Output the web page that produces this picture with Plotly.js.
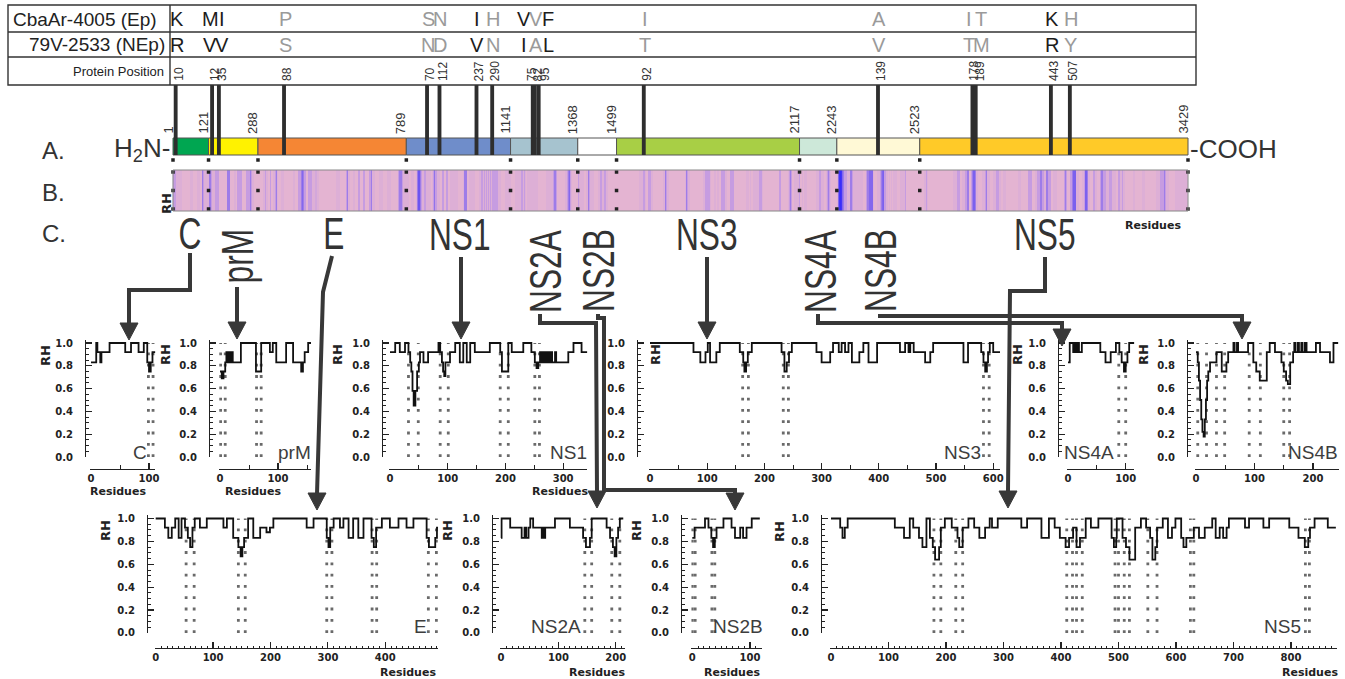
<!DOCTYPE html>
<html><head><meta charset="utf-8">
<script src="https://cdn.plot.ly/plotly-3.0.1.min.js"></script>
<style>html,body{margin:0;padding:0;background:#fff}#chart{width:1345px;height:679px}</style>
</head><body><div id="chart"></div>
<script>
// ================= DATA =================
const proteins = ['C','prM','E','NS1','NS2A','NS2B','NS3','NS4A','NS4B','NS5'];
const boundaries = [1,121,288,789,1141,1368,1499,2117,2243,2523,3429];
const segColors = ['#00a651','#fff200','#f58634','#6f8dca','#a6c3cf','#ffffff','#a8cf45','#cde8d9','#fff9d6','#ffca28'];

const mutGenomePos  = [10,133,156,376,859,901,1026,1079,1216,1223,1236,1591,2382,2701,2712,2966,3030];
const mutProteinPos = ['10','12','35','88','70','112','237','290','75','82','95','92','139','178','189','443','507'];
const aaEp  = ['K','M','I','P','S','N','I','H','V','V','F','I','A','I','T','K','H'];
const aaNEp = ['R','V','V','S','N','D','V','N','I','A','L','T','V','T','M','R','Y'];
const aaDark = [1,1,1,0,0,0,1,0,1,0,1,0,0,0,0,1,0];
const strainNames = ['CbaAr-4005 (Ep)','79V-2533 (NEp)','Protein Position'];

// RH step profiles (residue where a step starts, RH value)
const C_res = [0,9,11,16,18,32,59,69,82,91,97,100,103,106,111];
const C_rh  = [0.83,1,0.92,0.83,0.92,1,0.92,1,0.92,1,0.83,0.75,0.83,0.92,0.92];
const C_dots = [[99,107]];

const prM_res = [0,3,6,9,11,13,15,17,19,22,36,62,71,86,91,97,114,126,140,143,146,152,157];
const prM_rh  = [0.75,0.69,0.75,0.83,0.92,0.83,0.92,0.83,0.92,0.83,1,0.75,1,0.92,1,0.83,1,0.83,0.75,0.83,0.92,1,1];
const prM_dots = [[1,9],[63,71]];

const E_res = [0,16,22,28,34,40,45,51,56,60,64,68,77,89,118,124,135,144,148,151,154,161,170,182,193,199,205,263,275,298,301,304,310,321,327,336,344,353,362,376,380,384,394,408,423,437,449,472,476,487,490,492];
const E_rh  = [1,0.92,0.83,0.92,1,0.83,1,0.92,0.83,0.75,0.92,1,0.92,1,0.92,1,0.83,0.75,0.67,0.75,0.83,1,0.83,0.92,0.88,0.92,1,0.92,1,0.83,0.75,0.92,1,0.92,1,0.83,1,0.83,1,0.83,0.75,0.92,1,0.92,1,0.92,1,0.83,0.75,0.83,0.92,0.92];
const E_dots = [[53,67],[144,156],[298,307],[377,385],[475,489]];

const NS1_res = [0,9,17,26,32,35,37,39,41,44,47,50,52,58,66,84,87,90,92,94,96,104,113,121,127,133,139,147,173,191,194,205,211,231,245,251,254,257,260,263,266,269,272,275,278,281,286,288,309,318,332,342];
const NS1_rh  = [0.92,1,0.92,1,0.92,0.83,0.75,0.58,0.45,0.58,0.75,0.83,0.92,0.83,0.92,1,0.92,0.83,0.75,0.71,0.83,0.92,1,0.83,1,0.83,1,0.92,1,0.92,0.75,1,0.92,1,0.92,0.83,0.78,0.83,0.92,0.83,0.92,0.83,0.92,0.83,0.92,0.83,0.92,0.83,0.92,1,0.92,0.92];
const NS1_dots = [[32,49],[87,101],[191,205],[251,259]];

const NS2A_res = [0,1,16,36,41,44,48,51,56,71,73,75,77,94,120,143,148,155,158,184,190,195,198,201,204,207,213];
const NS2A_rh  = [0.83,1,0.92,0.83,0.92,0.83,0.92,1,0.92,0.83,0.92,0.83,0.92,1,0.92,0.83,0.75,0.83,1,0.92,0.83,0.75,0.67,0.83,0.92,1,1];
const NS2A_dots = [[146,158],[193,207]];

const NS2B_res = [0,4,22,28,33,36,39,42,54,68,74,83,88,94,103,117];
const NS2B_rh  = [0.83,0.92,1,0.92,0.83,0.75,0.83,0.92,1,0.92,0.83,0.92,0.83,0.92,1,1];
const NS2B_dots = [[0,5],[34,39]];

const NS3_res = [0,76,88,97,101,105,116,122,157,163,165,168,171,178,230,235,239,243,248,291,300,315,320,330,335,341,347,353,366,373,382,397,437,446,452,455,461,481,490,495,548,556,579,583,586,589,591,594,600,612];
const NS3_rh  = [1,0.92,0.83,0.92,1,0.83,0.92,1,0.92,0.83,0.75,0.83,0.92,1,0.92,0.75,0.83,0.92,1,0.92,0.83,0.92,1,0.92,1,0.92,1,0.83,0.92,1,0.83,1,0.92,1,0.92,1,0.92,0.83,0.92,1,0.83,1,0.92,0.83,0.75,0.83,0.92,1,0.92,0.92];
const NS3_dots = [[162,172],[233,242],[583,593]];

const NS4A_res = [0,3,9,12,14,17,19,24,56,65,74,83,89,93,97,100,103,106,115];
const NS4A_rh  = [0.83,1,0.92,1,0.92,1,0.92,1,0.92,0.83,0.92,1,0.92,0.83,0.75,0.83,0.92,1,1];
const NS4A_dots = [[88,100]];

const NS4B_res = [0,3,5,7,9,11,13,15,17,19,21,24,35,44,52,55,64,66,70,72,75,89,98,103,109,121,126,135,146,150,154,157,161,166,168,170,174,176,180,182,186,189,205,212,229,235,243];
const NS4B_rh  = [0.92,0.83,0.67,0.5,0.33,0.22,0.18,0.33,0.5,0.67,0.75,0.83,0.92,0.75,0.83,0.92,1,0.92,1,0.92,0.92,1,0.83,0.75,0.67,0.92,1,0.92,0.83,0.75,0.67,0.64,0.83,0.92,1,0.92,1,0.92,1,0.92,1,0.92,1,0.92,0.83,1,1];
const NS4B_dots = [[3,18],[35,49],[91,110],[150,160]];

const NS5_res = [0,16,20,24,29,111,127,137,143,153,159,166,172,177,181,188,191,198,210,220,223,229,239,249,258,268,276,280,290,331,341,366,379,389,398,408,414,421,427,433,443,452,465,488,492,496,497,507,513,519,529,539,548,555,559,564,567,577,586,593,599,609,613,618,631,640,650,663,669,676,682,688,692,720,727,752,762,797,813,824,830,833,841,864,878];
const NS5_rh  = [1,0.92,0.83,0.92,1,0.92,0.83,1,0.92,0.83,0.75,1,0.83,0.75,0.64,0.75,0.92,1,0.92,0.83,0.75,0.92,1,0.92,0.83,0.92,1,0.92,1,0.92,1,0.83,1,0.92,0.83,0.75,0.83,0.92,0.75,0.83,1,0.92,1,0.83,0.75,0.83,1,0.83,0.75,0.64,0.92,1,0.92,0.83,0.64,0.75,0.92,1,0.83,0.92,1,0.83,0.75,0.83,0.92,0.83,0.92,1,0.83,0.92,0.83,0.92,1,0.92,1,0.92,1,0.92,0.83,0.75,0.83,0.92,1,0.92,0.92];
const NS5_dots = [[179,191],[217,229],[410,420],[427,437],[494,500],[510,519],[551,567],[625,631],[825,832]];

const profiles = {
  C:{res:C_res, rh:C_rh, dots:C_dots}, prM:{res:prM_res, rh:prM_rh, dots:prM_dots},
  E:{res:E_res, rh:E_rh, dots:E_dots}, NS1:{res:NS1_res, rh:NS1_rh, dots:NS1_dots},
  NS2A:{res:NS2A_res, rh:NS2A_rh, dots:NS2A_dots}, NS2B:{res:NS2B_res, rh:NS2B_rh, dots:NS2B_dots},
  NS3:{res:NS3_res, rh:NS3_rh, dots:NS3_dots}, NS4A:{res:NS4A_res, rh:NS4A_rh, dots:NS4A_dots},
  NS4B:{res:NS4B_res, rh:NS4B_rh, dots:NS4B_dots}, NS5:{res:NS5_res, rh:NS5_rh, dots:NS5_dots}
};
const yTickVals = [0,0.2,0.4,0.6,0.8,1.0];
const yTickText = ['0.0','0.2','0.4','0.6','0.8','1.0'];

// ================= LAYOUT HELPERS =================
const W = 1345, H = 679;
const X = px => px / W;
const Y = py => 1 - py / H;
const SANS = 'Liberation Sans, Arial, sans-serif';
const BOLD = 'DejaVu Sans, Verdana, sans-serif';
const INK = '#222';

function stepAt(res, rh, r) {
  let v = rh[0];
  for (let k = 0; k < res.length; k++) { if (res[k] <= r) v = rh[k]; else break; }
  return v;
}

// spread clustered labels apart (pixel positions)
function spread(px, gap) {
  const out = px.slice();
  let changed = true, guard = 0;
  while (changed && guard++ < 50) {
    changed = false;
    let i = 0;
    while (i < out.length) {
      let j = i;
      while (j + 1 < out.length && out[j + 1] - out[j] < gap - 0.01) j++;
      if (j > i) {
        const mean = out.slice(i, j + 1).reduce((a, b) => a + b, 0) / (j - i + 1);
        for (let k = i; k <= j; k++) out[k] = mean + (k - i - (j - i) / 2) * gap;
        changed = true;
      }
      i = j + 1;
    }
  }
  return out;
}

// ================= GENOME (A, B) =================
const gPx0 = 173, gPx1 = 1188;
const gppr = (gPx1 - gPx0) / (boundaries[boundaries.length - 1] - boundaries[0]);
const gRange = [-12, 3442];
const gpx = r => gPx0 + (r - boundaries[0]) * gppr;

const traces = [];
const layout = {
  width: W, height: H, margin: {l: 0, r: 0, t: 0, b: 0},
  paper_bgcolor: '#fff', plot_bgcolor: 'rgba(0,0,0,0)',
  showlegend: false, barmode: 'overlay',
  annotations: [], shapes: []
};

layout.xaxis11 = {domain: [X(gpx(gRange[0])), X(gpx(gRange[1]))], range: gRange, visible: false, anchor: 'y11', fixedrange: true};
layout.yaxis11 = {domain: [Y(215), Y(85)], range: [0, 130], visible: false, anchor: 'x11', fixedrange: true};

// RH strip built from concatenated protein profiles
const stripVals = [];
for (let i = 0; i < proteins.length; i++) {
  const start = i === 0 ? boundaries[0] : boundaries[i] + 1;
  const end = boundaries[i + 1];
  const p = profiles[proteins[i]];
  for (let g = start; g <= end; g++) stripVals.push(stepAt(p.res, p.rh, g - start));
}
traces.push({
  type: 'heatmap', xaxis: 'x11', yaxis: 'y11', z: [stripVals], x0: boundaries[0], dx: 1, y0: 24.5, dy: 41,
  zmin: 0, zmax: 1, showscale: false, hoverinfo: 'skip',
  colorscale: [[0, 'rgb(35,30,255)'], [0.45, 'rgb(80,62,245)'], [0.65, 'rgb(125,98,238)'], [0.75, 'rgb(158,124,232)'],
               [0.83, 'rgb(198,156,225)'], [0.92, 'rgb(221,175,214)'], [1, 'rgb(228,180,210)']]
});
layout.shapes.push({type: 'rect', xref: 'x11', yref: 'y11', x0: boundaries[0], x1: boundaries[boundaries.length - 1], y0: 4, y1: 45, line: {color: '#888', width: 1}});

// genome segments
traces.push({
  type: 'bar', orientation: 'h', xaxis: 'x11', yaxis: 'y11',
  y: proteins.map(() => 68.5), base: boundaries.slice(0, -1),
  x: boundaries.slice(1).map((b, i) => b - boundaries[i]), width: 17,
  marker: {color: segColors, line: {color: '#555', width: 1}}, hoverinfo: 'skip'
});
// mutation bars
traces.push({
  type: 'bar', xaxis: 'x11', yaxis: 'y11', x: mutGenomePos, y: mutGenomePos.map(() => 70), base: 60, width: 13,
  marker: {color: '#2e2e2e', line: {width: 0}}, hoverinfo: 'skip'
});
// boundary dots
const dotY = [55, 43, 24.5, 6];
traces.push({
  type: 'scatter', mode: 'markers', xaxis: 'x11', yaxis: 'y11',
  x: boundaries.flatMap(b => dotY.map(() => b)), y: boundaries.flatMap(() => dotY),
  marker: {symbol: 'square', size: 3.5, color: '#222'}, hoverinfo: 'skip', cliponaxis: false
});
// boundary labels
boundaries.forEach(b => layout.annotations.push({
  xref: 'x11', yref: 'paper', x: b, y: Y(136), xshift: -5, text: String(b), showarrow: false,
  textangle: -90, xanchor: 'center', yanchor: 'bottom', font: {family: SANS, size: 13, color: '#333'}
}));

// ================= TABLE =================
layout.shapes.push({type: 'rect', xref: 'paper', yref: 'paper', x0: X(8), x1: X(1196), y0: Y(5), y1: Y(85), line: {color: '#333', width: 1.4}});
[32, 57].forEach(py => layout.shapes.push({type: 'line', xref: 'paper', yref: 'paper', x0: X(8), x1: X(1196), y0: Y(py), y1: Y(py), line: {color: '#333', width: 1.4}}));
layout.shapes.push({type: 'line', xref: 'paper', yref: 'paper', x0: X(170), x1: X(170), y0: Y(5), y1: Y(85), line: {color: '#333', width: 1.4}});
layout.annotations.push({xref: 'paper', yref: 'paper', x: X(11), y: Y(19), text: strainNames[0], showarrow: false, xanchor: 'left', yanchor: 'middle', font: {family: SANS, size: 19, color: INK}});
layout.annotations.push({xref: 'paper', yref: 'paper', x: X(167), y: Y(45), text: strainNames[1], showarrow: false, xanchor: 'right', yanchor: 'middle', font: {family: SANS, size: 19, color: INK}});
layout.annotations.push({xref: 'paper', yref: 'paper', x: X(166), y: Y(72), text: strainNames[2], showarrow: false, xanchor: 'right', yanchor: 'middle', font: {family: SANS, size: 13, color: INK}});

const mutPx = mutGenomePos.map(gpx);
const letterPx = spread(mutPx, 12);
const numPx = spread(mutPx, 6.5);
mutGenomePos.forEach((g, i) => {
  const col = aaDark[i] ? '#1c1c1c' : '#9a9a9a';
  layout.annotations.push({xref: 'x11', yref: 'paper', x: g, xshift: letterPx[i] - mutPx[i] + 1, y: Y(19), text: aaEp[i], showarrow: false, xanchor: 'center', yanchor: 'middle', font: {family: SANS, size: 20, color: col}});
  layout.annotations.push({xref: 'x11', yref: 'paper', x: g, xshift: letterPx[i] - mutPx[i] + 1, y: Y(45), text: aaNEp[i], showarrow: false, xanchor: 'center', yanchor: 'middle', font: {family: SANS, size: 20, color: col}});
  layout.annotations.push({xref: 'x11', yref: 'paper', x: g, xshift: numPx[i] - mutPx[i] + 3, y: Y(83), text: mutProteinPos[i], showarrow: false, textangle: -90, xanchor: 'center', yanchor: 'bottom', font: {family: SANS, size: 12, color: '#333'}});
});

// ================= SECTION LABELS =================
[['A.', 150], ['B.', 192], ['C.', 233]].forEach(([t, py]) => layout.annotations.push({
  xref: 'paper', yref: 'paper', x: X(40), y: Y(py), text: t, showarrow: false, xanchor: 'left', yanchor: 'middle', font: {family: SANS, size: 24, color: '#333'}}));
layout.annotations.push({xref: 'paper', yref: 'paper', x: X(172), y: Y(149), text: 'H<sub>2</sub>N-', showarrow: false, xanchor: 'right', yanchor: 'middle', font: {family: SANS, size: 26, color: '#333'}});
layout.annotations.push({xref: 'paper', yref: 'paper', x: X(1188), y: Y(149), text: '-COOH', showarrow: false, xanchor: 'left', yanchor: 'middle', font: {family: SANS, size: 26, color: '#333'}});
layout.annotations.push({xref: 'paper', yref: 'paper', x: X(157), y: Y(191), text: 'RH', showarrow: false, textangle: -90, font: {family: BOLD, size: 13, color: INK, weight: 'bold'}});
layout.annotations.push({xref: 'paper', yref: 'paper', x: X(1183), y: Y(226), text: 'Residues', showarrow: false, xanchor: 'right', yanchor: 'middle', font: {family: BOLD, size: 11, color: INK, weight: 'bold'}});

// protein labels (section C) : [name, centre x, centre y, rotated]
const bigLabels = [['C', 190, 233, false], ['prM', 237, 256, true], ['E', 333, 233, false], ['NS1', 460, 234, false],
  ['NS2A', 545, 271, true], ['NS2B', 598, 271, true], ['NS3', 707, 234, false], ['NS4A', 820, 271, true],
  ['NS4B', 880, 271, true], ['NS5', 1045, 234, false]];
const narrowIdx = [];
bigLabels.forEach(([t, px, py, rot]) => {
  narrowIdx.push(layout.annotations.length);
  layout.annotations.push({
    xref: 'paper', yref: 'paper', x: X(px), y: Y(py), text: t, showarrow: false, textangle: rot ? -90 : 0,
    xanchor: 'center', yanchor: 'middle', font: {family: SANS, size: 44, color: '#333'}});
});

// arrows (decorative connectors)
const arrowRoutes = [
  [[190,253],[190,290],[129,290],[129,324]],
  [[237,287],[237,323]],
  [[332,256],[323,292],[317,494]],
  [[461,257],[461,323]],
  [[540,314],[540,323],[596,323],[597,492]],
  [[598,314],[598,318],[604,318],[604,490],[735,490],[735,494]],
  [[707,257],[707,323]],
  [[818,314],[818,323],[1062,323],[1062,330]],
  [[880,314],[880,316],[1242,316],[1242,323]],
  [[1045,257],[1045,291],[1010,291],[1008,492]]
];
arrowRoutes.forEach(route => {
  const path = route.map((p, k) => (k ? 'L' : 'M') + X(p[0]).toFixed(5) + ',' + Y(p[1]).toFixed(5)).join(' ');
  layout.shapes.push({type: 'path', xref: 'paper', yref: 'paper', path, line: {color: '#383838', width: 4}, fillcolor: 'rgba(0,0,0,0)'});
  const [tx, ty0] = route[route.length - 1];
  const ty = ty0 + 16;
  const head = `M${X(tx - 9)},${Y(ty0 - 1)} L${X(tx + 9)},${Y(ty0 - 1)} L${X(tx)},${Y(ty)} Z`;
  layout.shapes.push({type: 'path', xref: 'paper', yref: 'paper', path: head, line: {color: '#383838', width: 1}, fillcolor: '#383838'});
});

// ================= SMALL RH PLOTS =================
const rows = [{zeroY: 457, ppu: 114, axisY: 469, resY: 491, minor: 50, minorLen: 4, rhY: 355, nameY: 452},
              {zeroY: 633, ppu: 114.5, axisY: 648, resY: 672, minor: 10, minorLen: 2.5, rhY: 531, nameY: 626}];
const smallPlots = [
  {p: 'C',    row: 0, yAxisPx: 85,   zeroPx: 91,    ppr: 0.58,  xmax: 111, rhX: 45,   nameRight: 149,  resRight: 148},
  {p: 'prM',  row: 0, yAxisPx: 209,  zeroPx: 220,   ppr: 0.58,  xmax: 157, rhX: 165,  nameRight: 313,  resRight: 283},
  {p: 'NS1',  row: 0, yAxisPx: 382,  zeroPx: 390,   ppr: 0.577, xmax: 342, rhX: 337,  nameRight: 589,  resRight: 590},
  {p: 'NS3',  row: 0, yAxisPx: 637,  zeroPx: 650,   ppr: 0.572, xmax: 612, rhX: 655,  nameRight: 983,  resRight: null},
  {p: 'NS4A', row: 0, yAxisPx: 1058, zeroPx: 1068,  ppr: 0.577, xmax: 115, rhX: 1017, nameRight: 1116, resRight: null},
  {p: 'NS4B', row: 0, yAxisPx: 1187, zeroPx: 1196,  ppr: 0.585, xmax: 245, rhX: 1143, nameRight: 1340, resRight: null},
  {p: 'E',    row: 1, yAxisPx: 147,  zeroPx: 155.7, ppr: 0.574, xmax: 492, rhX: 105,  nameRight: 429,  resRight: 438},
  {p: 'NS2A', row: 1, yAxisPx: 492,  zeroPx: 501,   ppr: 0.574, xmax: 216, rhX: 447,  nameRight: 583,  resRight: 627},
  {p: 'NS2B', row: 1, yAxisPx: 681,  zeroPx: 692.3, ppr: 0.577, xmax: 120, rhX: 636,  nameRight: 765,  resRight: 762},
  {p: 'NS5',  row: 1, yAxisPx: 821,  zeroPx: 831,   ppr: 0.575, xmax: 880, rhX: 779,  nameRight: 1303, resRight: 1340}
];

smallPlots.forEach((sp, i) => {
  const n = i + 1;
  const rw = rows[sp.row];
  const prof = profiles[sp.p];
  const xmin = -1.5, ytop = 1.03;
  layout['xaxis' + n] = {
    domain: [X(sp.zeroPx + xmin * sp.ppr), X(sp.zeroPx + sp.xmax * sp.ppr)], range: [xmin, sp.xmax],
    anchor: 'free', position: Y(rw.axisY), showline: true, linecolor: INK, linewidth: 1.2,
    ticks: 'inside', ticklen: 6, tickwidth: 1.2, tickcolor: INK, tick0: 0, dtick: 100,
    minor: {ticks: 'inside', dtick: rw.minor, tick0: 0, ticklen: rw.minorLen, tickcolor: INK, tickwidth: 1},
    tickfont: {family: BOLD, size: 10, color: INK, weight: 'bold'}, showgrid: false, zeroline: false, fixedrange: true
  };
  layout['yaxis' + n] = {
    domain: [Y(rw.zeroY), Y(rw.zeroY - ytop * rw.ppu)], range: [0, ytop],
    anchor: 'free', position: X(sp.yAxisPx), showline: true, linecolor: INK, linewidth: 1.2,
    ticks: 'inside', ticklen: 6, tickwidth: 1.2, tickcolor: INK, tickvals: yTickVals, ticktext: yTickText,
    minor: {ticks: 'inside', dtick: 0.05, tick0: 0, ticklen: 3, tickcolor: INK, tickwidth: 1},
    ticklabelstandoff: 10, tickfont: {family: BOLD, size: 10, color: INK, weight: 'bold'},
    showgrid: false, zeroline: false, fixedrange: true
  };
  // dotted region markers
  const dx = [], dy = [];
  prof.dots.forEach(([a, b]) => { dx.push(a, a, null, b, b, null); dy.push(0, 1, null, 0, 1, null); });
  traces.push({type: 'scatter', mode: 'lines', xaxis: 'x' + n, yaxis: 'y' + n, x: dx, y: dy,
    line: {color: '#6a6a6a', width: 2.8, dash: '2.8px,8.5px'}, hoverinfo: 'skip'});
  // RH profile
  traces.push({type: 'scatter', mode: 'lines', xaxis: 'x' + n, yaxis: 'y' + n, x: prof.res, y: prof.rh,
    line: {color: '#111', width: 1.8, shape: 'hv'}, hoverinfo: 'skip'});
  // labels
  layout.annotations.push({xref: 'paper', yref: 'paper', x: X(sp.rhX), y: Y(rw.rhY), text: 'RH', showarrow: false, textangle: -90,
    xanchor: 'center', yanchor: 'middle', font: {family: BOLD, size: 13, color: INK, weight: 'bold'}});
  layout.annotations.push({xref: 'paper', yref: 'paper', x: X(sp.nameRight), y: Y(rw.nameY), text: sp.p, showarrow: false,
    xanchor: 'right', yanchor: 'middle', font: {family: SANS, size: 19, color: '#3d3d3d'}});
  if (sp.resRight) layout.annotations.push({xref: 'paper', yref: 'paper', x: X(sp.resRight), y: Y(rw.resY), text: 'Residues', showarrow: false,
    xanchor: 'right', yanchor: 'middle', font: {family: BOLD, size: 11, color: INK, weight: 'bold'}});
});

Plotly.newPlot('chart', traces, layout, {staticPlot: true}).then(gd => {
  // condense the large protein names (narrow typeface look) while keeping them as real text
  narrowIdx.forEach(idx => {
    const t = gd.querySelector(`.annotation[data-index="${idx}"] text.annotation-text`);
    if (t && t.getComputedTextLength) {
      const L = t.getComputedTextLength();
      t.setAttribute('textLength', (L * 0.72).toFixed(1));
      t.setAttribute('lengthAdjust', 'spacingAndGlyphs');
    }
  });
});
</script>
</body></html>
